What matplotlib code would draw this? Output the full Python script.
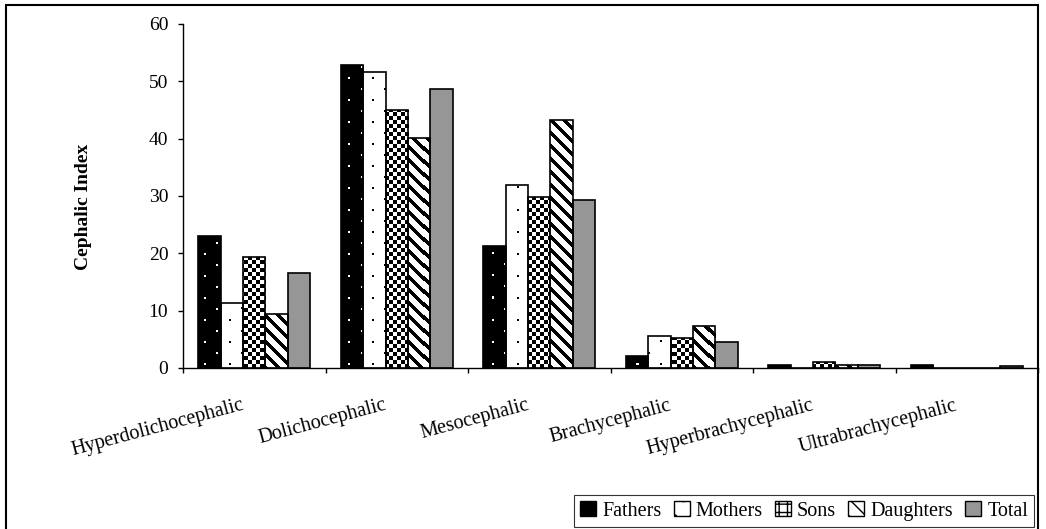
import numpy as np
import matplotlib.pyplot as plt
from matplotlib.patches import Patch, Rectangle
from matplotlib.transforms import offset_copy

# Datos
categories = ['Hyperdolichocephalic', 'Dolichocephalic', 'Mesocephalic',
              'Brachycephalic', 'Hyperbrachycephalic', 'Ultrabrachycephalic']
series = ['Fathers', 'Mothers', 'Sons', 'Daughters', 'Total']
fathers = [23.0, 52.8, 21.3, 2.1, 0.6, 0.6]
mothers = [11.4, 51.6, 32.0, 5.6, 0.0, 0.0]
sons = [19.3, 45.0, 29.8, 5.2, 1.0, 0.0]
daughters = [9.4, 40.1, 43.2, 7.3, 0.6, 0.0]
total = [16.6, 48.7, 29.3, 4.6, 0.6, 0.3]
values = [fathers, mothers, sons, daughters, total]

plt.rcParams['font.family'] = ['Liberation Serif', 'DejaVu Serif']

W, H = 1046, 529
fig = plt.figure(figsize=(W / 100, H / 100), dpi=100)
ax = fig.add_axes([183 / W, 1 - 368 / H, (1038 - 183) / W, (368 - 24) / H])
ax.set_xlim(0, len(categories))
ax.set_ylim(0, 60)
ax.set_autoscale_on(False)


def texture(kind, gx, gy):
    # patrones en pixeles (gy contado desde arriba)
    dots = ((gy % 11) < 2) & (((gx + 12 * ((gy // 11) % 2)) % 24) < 2)
    if kind == 'fathers':
        return np.where(dots, 1.0, 0.0)
    if kind == 'mothers':
        return np.where(dots, 0.0, 1.0)
    if kind == 'sons':
        return ((gx // 4 + gy // 4) % 2).astype(float)
    if kind == 'daughters':
        return np.where(((gx - gy) % 13) < 5, 0.0, 1.0)
    return None


kinds = ['fathers', 'mothers', 'sons', 'daughters', None]
bases = ['black', 'white', 'white', 'white', '#969696']
width = 0.157
x = np.arange(len(categories)) + 0.5
inv = ax.transData.inverted()

for i, (vals, kind, base) in enumerate(zip(values, kinds, bases)):
    off = (i - 2) * width
    bars = ax.bar(x + off, vals, width, color=base, linewidth=0, zorder=2)
    if kind:
        for b in bars:
            if b.get_height() <= 0:
                continue
            (px0, py0), (px1, py1) = ax.transData.transform(
                [(b.get_x(), 0), (b.get_x() + b.get_width(), b.get_height())])
            ix0, ix1 = int(np.floor(px0)), int(np.ceil(px1))
            iy0, iy1 = int(np.floor(py0)), int(np.ceil(py1))
            gx, gy = np.meshgrid(np.arange(ix0, ix1), H - np.arange(iy1, iy0, -1))
            img = texture(kind, gx, gy)
            (dx0, dy0), (dx1, dy1) = inv.transform([(ix0, iy0), (ix1, iy1)])
            im = ax.imshow(img, cmap='gray', vmin=0, vmax=1, origin='upper',
                           extent=(dx0, dx1, dy0, dy1), interpolation='nearest',
                           aspect='auto', zorder=2.1)
            im.set_clip_path(b)
    ax.bar(x + off, vals, width, fill=False, edgecolor='black', linewidth=1.2, zorder=3)

ax.set_xlim(0, len(categories))
ax.set_ylim(0, 60)

ax.spines['top'].set_visible(False)
ax.spines['right'].set_visible(False)
ax.spines['left'].set_linewidth(1)
ax.spines['bottom'].set_linewidth(1)

ax.set_xticks(np.arange(0, len(categories) + 1))
ax.set_xticklabels([])
ax.set_yticks(np.arange(0, 61, 10))
ax.tick_params(axis='x', direction='out', length=3.6, width=1)
ax.tick_params(axis='y', direction='out', length=3.6, width=1, labelsize=14, pad=7)

lbl_tr = offset_copy(ax.get_xaxis_transform(), fig=fig, x=-13, y=-28, units='dots')
for xi, name in zip(x, categories):
    ax.text(xi, 0, name, transform=lbl_tr, ha='right', va='top', rotation=15,
            rotation_mode='anchor', fontsize=14.5)

fig.text(84 / W, 1 - 207 / H, 'Cephalic Index', rotation=90, fontweight='bold',
         fontsize=14, ha='center', va='center')

handles = [
    Patch(facecolor='black', edgecolor='black'),
    Patch(facecolor='white', edgecolor='black', hatch='.'),
    Patch(facecolor='white', edgecolor='black', hatch='++'),
    Patch(facecolor='white', edgecolor='black', hatch='\\\\'),
    Patch(facecolor='#969696', edgecolor='black'),
]
leg = fig.legend(handles, series, loc='upper left', bbox_to_anchor=(574 / W, 1 - 495 / H),
                 ncol=5, frameon=True, fancybox=False, edgecolor='black', fontsize=14.5,
                 handlelength=0.8, handleheight=0.8, handletextpad=0.3,
                 columnspacing=0.6, borderpad=0.3, borderaxespad=0)
leg.get_frame().set_linewidth(0.8)

fig.add_artist(Rectangle((6 / W, -0.05), (1038 - 6) / W, (H - 5) / H + 0.05,
                         transform=fig.transFigure, fill=False, edgecolor='black',
                         linewidth=1.5))

fig.savefig('out.png', dpi=100)
